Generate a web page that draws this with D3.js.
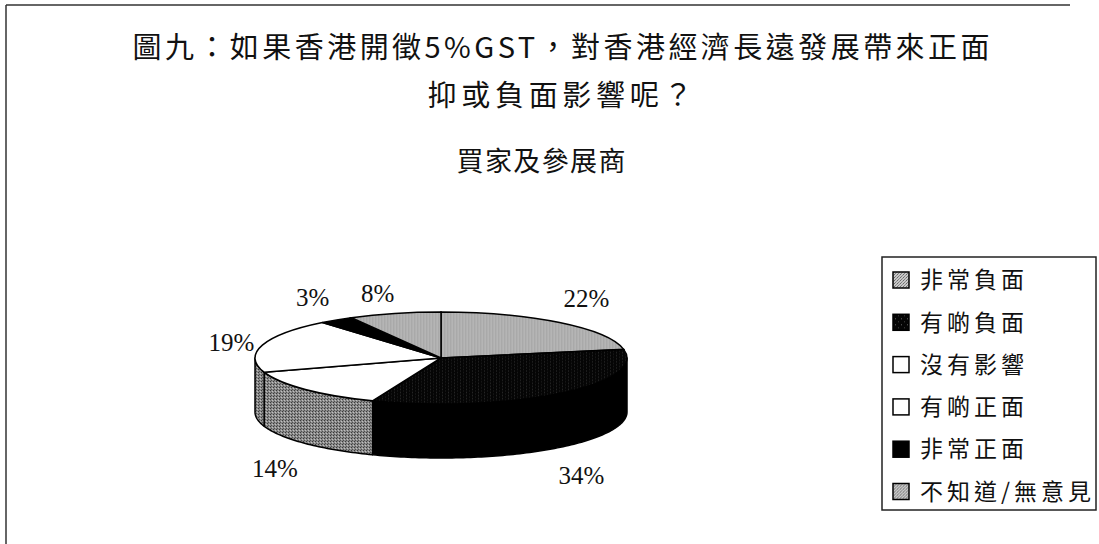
<!DOCTYPE html>
<html>
<head>
<meta charset="utf-8">
<script src="https://cdn.jsdelivr.net/npm/d3@7/dist/d3.min.js"></script>
<style>
  html, body { margin: 0; padding: 0; background: #fff; }
  svg { display: block; }
</style>
</head>
<body>
<div id="chart"></div>
<script>
// chart data
var titleLines = ["圖九：如果香港開徵5%GST，對香港經濟長遠發展帶來正面", "抑或負面影響呢？"];
var subTitle = "買家及參展商";
var categories = ["非常負面", "有啲負面", "沒有影響", "有啲正面", "非常正面", "不知道/無意見"];
var values = [22, 34, 14, 19, 3, 8];

var W = 1099, H = 544;
var svg = d3.select("#chart").append("svg").attr("width", W).attr("height", H);

// textures that imitate the scanned fills
var defs = svg.append("defs");
function dotPattern(id, size, bg, dots) {
    var p = defs.append("pattern").attr("id", id).attr("patternUnits", "userSpaceOnUse")
        .attr("width", size).attr("height", size);
    p.append("rect").attr("width", size).attr("height", size).attr("fill", bg);
    dots.forEach(function (d) {
        p.append("rect").attr("x", d[0]).attr("y", d[1]).attr("width", 1).attr("height", 1).attr("fill", d[2]);
    });
}
dotPattern("pLight", 3, "#c8c8c8", [[0, 0, "#6a6a6a"], [2, 1, "#909090"], [1, 2, "#808080"]]);
dotPattern("pSide", 3, "#8a8a8a", [[0, 0, "#3a3a3a"], [2, 1, "#c0c0c0"], [1, 2, "#505050"]]);
dotPattern("pDark", 6, "#050505", [[1, 2, "#666"], [4, 5, "#444"]]);

var topFill = ["url(#pLight)", "url(#pDark)", "#fff", "#fff", "#000", "url(#pLight)"];
var sideFill = ["url(#pSide)", "#000", "url(#pSide)", "url(#pSide)", "#000", "url(#pSide)"];

// outer frame (top and left only, as in the scan)
svg.append("line").attr("x1", 6).attr("y1", 5).attr("x2", 1070).attr("y2", 5)
    .attr("stroke", "#333").attr("stroke-width", 1.5);
svg.append("line").attr("x1", 6).attr("y1", 5).attr("x2", 6).attr("y2", H)
    .attr("stroke", "#333").attr("stroke-width", 1.5);

// titles
var cjk = "'Noto Sans CJK TC', 'Noto Sans CJK SC', sans-serif";
svg.append("text").attr("x", 561).attr("y", 58).attr("text-anchor", "middle")
    .attr("font-family", cjk).attr("font-size", 29).attr("fill", "#111")
    .attr("textLength", 857).attr("lengthAdjust", "spacing").text(titleLines[0]);
svg.append("text").attr("x", 560).attr("y", 106).attr("text-anchor", "middle")
    .attr("font-family", cjk).attr("font-size", 29).attr("fill", "#111")
    .attr("textLength", 265).attr("lengthAdjust", "spacing").text(titleLines[1]);
svg.append("text").attr("x", 541).attr("y", 171).attr("text-anchor", "middle")
    .attr("font-family", cjk).attr("font-size", 27).attr("fill", "#111")
    .attr("textLength", 169).attr("lengthAdjust", "spacing").text(subTitle);

// 3d pie
var cx = 441, cy = 358, rx = 186, ry = 46, depth = 54;
var pie = d3.pie().sort(null).startAngle(0).endAngle(2 * Math.PI);
var arcs = pie(values);

function rim(t, dy) {
    return [cx + rx * Math.sin(t), cy - ry * Math.cos(t) + dy];
}
function sidePath(a0, a1) {
    var s = Math.max(a0, Math.PI / 2), e = Math.min(a1, 3 * Math.PI / 2);
    if (s >= e) return null;
    var n = Math.max(2, Math.ceil((e - s) / 0.02));
    var ts = d3.range(n + 1).map(function (i) { return s + (e - s) * i / n; });
    var pts = ts.map(function (t) { return rim(t, 0); })
        .concat(ts.slice().reverse().map(function (t) { return rim(t, depth); }));
    return d3.line()(pts) + "Z";
}

var g = svg.append("g");
g.selectAll("path.side")
    .data(arcs.filter(function (d) { return sidePath(d.startAngle, d.endAngle); }))
    .enter().append("path").attr("class", "side")
    .attr("d", function (d) { return sidePath(d.startAngle, d.endAngle); })
    .attr("fill", function (d) { return sideFill[d.index]; })
    .attr("stroke", "#000").attr("stroke-width", 1.5).attr("stroke-linejoin", "round");

var arc = d3.arc().innerRadius(0).outerRadius(rx);
g.append("g").attr("transform", "translate(" + cx + "," + cy + ") scale(1," + (ry / rx) + ")")
    .selectAll("path").data(arcs).enter().append("path")
    .attr("d", arc)
    .attr("fill", function (d, i) { return topFill[i]; })
    .attr("stroke", "#000").attr("stroke-width", 1.5)
    .attr("vector-effect", "non-scaling-stroke");

// percentage labels: just outside the rim at each slice's mid angle, nudged like the original
var nudgeX = [9, 4, -10, -4, -8, -10];
var nudgeY = [-3, 6, 6, 5, 0, 7];
svg.append("g").selectAll("text").data(arcs).enter().append("text")
    .attr("x", function (d, i) {
        var m = (d.startAngle + d.endAngle) / 2;
        return cx + (rx + 28) * Math.sin(m) + nudgeX[i];
    })
    .attr("y", function (d, i) {
        var m = (d.startAngle + d.endAngle) / 2;
        return cy - (ry + 28) * Math.cos(m) + (Math.cos(m) < 0 ? depth : 0) + nudgeY[i];
    })
    .attr("dy", "0.35em").attr("text-anchor", "middle")
    .attr("font-family", "'Liberation Serif', 'Times New Roman', serif")
    .attr("font-size", 25).attr("fill", "#111")
    .text(function (d) { return d.data + "%"; });

// legend
var lg = svg.append("g").attr("transform", "translate(882,257)");
lg.append("rect").attr("width", 214).attr("height", 253)
    .attr("fill", "#fff").attr("stroke", "#222").attr("stroke-width", 1.5);
var item = lg.selectAll("g.item").data(categories).enter().append("g")
    .attr("class", "item")
    .attr("transform", function (d, i) { return "translate(0," + (23 + i * 42.3) + ")"; });
item.append("rect").attr("x", 11).attr("y", -8).attr("width", 16).attr("height", 16)
    .attr("fill", function (d, i) { return topFill[i]; })
    .attr("stroke", "#000").attr("stroke-width", 1.5);
item.append("text").attr("x", 38).attr("dy", "0.36em")
    .attr("font-family", cjk).attr("font-size", 23).attr("letter-spacing", 4)
    .attr("fill", "#111").text(function (d) { return d; });
</script>
</body>
</html>
